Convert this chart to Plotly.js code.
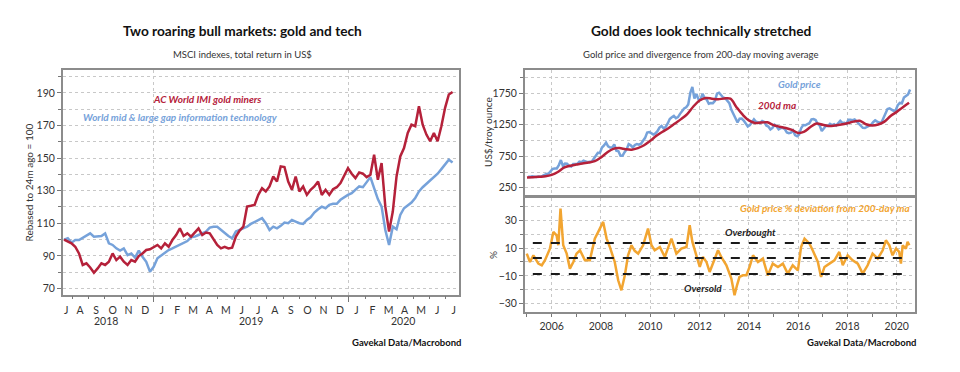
<!DOCTYPE html>
<html><head><meta charset="utf-8">
<script src="https://cdn.plot.ly/plotly-3.0.1.min.js"></script>
<style>html,body{margin:0;padding:0;background:#fff;}#chart{width:960px;height:372px;}</style>
</head><body><div id="chart"></div>
<script>
// ---------- LEFT CHART DATA (weekly, rebased to 100) ----------
const leftStartDate = '2018-07-17';
const goldMiners = [100,98.7,97.7,95.6,91.5,84.4,85.4,82.9,79.6,82.3,85.4,84.4,86.4,91.5,87.4,89.5,86.4,84.4,87.4,86.4,
  89.9,91.5,93.6,94.0,95.6,96.7,94.6,97.7,95.6,99.7,102.8,106.9,102.2,103.8,101.8,104.3,106.9,102.8,104.3,103.8,
  100.1,96.7,94.6,95.6,94.6,95.0,101.8,105.5,107.9,120.2,120.7,121.3,127.4,131.5,129.5,132.6,138.7,135.6,144.9,144.5,
  135.6,130.5,138.7,129.5,132.6,127.4,130.5,132.6,135.6,127.4,130.5,127.4,130.9,132.1,134.6,139.7,143.8,140.4,137.7,141.2,
  140.4,138.3,139.7,152.0,136.7,146.9,120.2,104.9,117.2,138.7,151.0,156.1,165.4,170.5,169.5,181.8,170.5,164.4,160.3,165.4,
  160.3,169.5,180.8,189.0,190.5];
const techIndex = [100,100.8,98.1,99.7,99.7,101.0,102.2,103.8,101.8,102.2,102.2,103.8,97.7,96.7,94.6,93.2,94.6,90.5,91.5,88.9,
  93.2,89.5,86.4,80.3,83.3,88.5,90.1,91.5,93.6,94.6,95.6,96.7,97.7,99.1,101.4,101.8,102.8,103.8,104.9,107.3,
  107.9,107.9,105.9,104.3,102.2,100.8,104.9,105.9,106.9,107.9,109.6,110.6,112.0,113.1,110.0,105.9,107.9,106.9,108.4,110.4,
  110.0,112.0,111.0,110.0,109.6,112.0,113.7,116.6,118.6,120.2,119.2,121.3,121.9,121.9,124.4,126.0,127.4,128.5,130.5,132.6,
  132.1,135.6,138.3,131.5,124.8,120.2,105.9,96.7,107.9,106.3,115.1,119.2,120.7,122.7,125.4,129.5,132.1,134.2,136.3,138.7,
  140.4,143.2,145.9,149.0,147.3];
const monthTickDates = ['2018-07-21','2018-08-16','2018-09-15','2018-10-16','2018-11-15','2018-12-16','2019-01-16','2019-02-14',
  '2019-03-16','2019-04-15','2019-05-16','2019-06-15','2019-07-16','2019-08-16','2019-09-15','2019-10-16','2019-11-15',
  '2019-12-16','2020-01-16','2020-02-15','2020-03-16','2020-04-15','2020-05-16','2020-06-15','2020-07-16'];
const monthTickText = ['J','A','S','O','N','D','J','F','M','A','M','J','J','A','S','O','N','D','J','F','M','A','M','J','J'];
const yearLabels = ['2018','2019','2020'];
const yearLabelDates = ['2018-10-03','2019-07-02','2020-04-12'];

// ---------- RIGHT CHART DATA ----------
const goldStartYear = 2005; // monthly from Jan 2005
const goldPrice = [
  424,423,434,429,422,430,424,438,456,470,476,510,
  549,555,557,610,690,596,633,632,598,586,627,629,
  631,665,655,679,667,655,665,665,712,754,806,803,
  889,922,968,909,888,889,939,839,829,760,760,816,
  858,943,924,890,928,945,934,949,996,1043,1127,1134,
  1117,1095,1113,1148,1205,1232,1193,1215,1271,1343,1370,1391,
  1356,1372,1424,1473,1510,1529,1572,1756,1850,1666,1739,1652,
  1656,1742,1673,1650,1585,1596,1594,1630,1745,1760,1721,1684,
  1671,1627,1593,1487,1414,1343,1286,1347,1349,1316,1275,1222,
  1244,1300,1336,1299,1288,1279,1311,1296,1238,1222,1176,1200,
  1251,1227,1179,1198,1199,1181,1128,1117,1125,1159,1086,1068,
  1097,1200,1246,1242,1260,1276,1337,1341,1326,1266,1236,1151,
  1192,1234,1231,1266,1246,1260,1236,1283,1314,1280,1282,1265,
  1331,1330,1324,1335,1303,1282,1238,1202,1199,1215,1221,1250,
  1291,1320,1300,1285,1284,1359,1413,1500,1510,1495,1471,1480,
  1560,1597,1591,1683,1715,1732,1810];
const ma200 = [412,418,424,432, 455,500,570,600, 618,636,652,672, 730,810,868,880, 862,855,880,925,
  995,1075,1140,1200, 1270,1340,1420,1540, 1635,1675,1665,1655, 1668,1665,1530,1410, 1320,1280,1285,1290,
  1245,1220,1200,1168, 1120,1140,1215,1270, 1250,1230,1240,1255, 1275,1300,1315,1258, 1240,1255,1300,1390,
  1455,1530,1600]; // quarterly from 2005.0
const devYears = [2004.99,2005.12,2005.26,2005.46,2005.60,2005.73,2005.93,2006.07,2006.20,2006.27,2006.36,2006.47,2006.61,
  2006.74,2006.88,2007.01,2007.15,2007.35,2007.55,2007.75,2007.89,2008.09,2008.23,2008.36,2008.56,2008.70,2008.83,2008.97,
  2009.10,2009.24,2009.37,2009.51,2009.71,2009.91,2010.05,2010.18,2010.39,2010.59,2010.86,2011.06,2011.26,2011.47,2011.60,
  2011.71,2011.87,2012.01,2012.14,2012.28,2012.41,2012.61,2012.75,2012.88,2013.09,2013.29,2013.42,2013.52,2013.62,2013.76,
  2013.90,2014.03,2014.17,2014.37,2014.57,2014.77,2014.97,2015.18,2015.38,2015.58,2015.78,2015.99,2016.12,2016.26,2016.46,
  2016.59,2016.80,2016.93,2017.07,2017.27,2017.47,2017.67,2017.81,2018.01,2018.21,2018.42,2018.62,2018.82,2019.02,2019.23,
  2019.43,2019.56,2019.70,2019.83,2019.97,2020.10,2020.17,2020.24,2020.37,2020.44,2020.51];
const devValues = [6,0,4.8,-1.2,-2.4,1.2,9.6,21.6,19.2,12,38.4,12,6,
  -4.8,0,6,8.4,1.2,1.2,16.8,21.6,28.8,16.8,10.8,0,-13.2,-20.4,-9.6,
  4.8,12,8,6,12,24,12,8.4,10.8,3.6,16.8,6,9.6,10.8,26.4,
  14.4,4.8,-3.6,3.6,0,-7.2,1.2,8.4,3.6,-2.4,-12,-24,-16.8,-10.8,-9.6,
  -9.6,-3.6,4.8,0,2.4,-9.6,-1.2,-3.6,-1.2,-8.4,-2.4,-6,10.8,16.8,13.2,
  8.4,0,-10.8,-3.6,-1.2,1.2,7.2,-2.4,4.8,1.2,-1.2,-8.4,-2.4,6,2.4,
  8.4,15.6,12,4.8,9.6,7.2,-1.2,12,9.6,14.4,12];
const bandLevels = [13.7, 2.9, -8.6]; // overbought, mean, oversold

// ---------- helpers ----------
function weeklyDates(start, n){
  const d0 = new Date(start + 'T00:00:00Z'); const out = [];
  for (let i=0;i<n;i++){ const d = new Date(d0.getTime() + i*7*86400000); out.push(d.toISOString().slice(0,10)); }
  return out;
}
const leftDates = weeklyDates(leftStartDate, goldMiners.length);
const goldX = goldPrice.map((_,i)=> goldStartYear + (i+0.5)/12);
const maX = ma200.map((_,i)=> goldStartYear + i*0.25);

const RED = '#b5213a', BLUE = '#76a2da', ORANGE = '#f2a531', TXT = '#333333';
const FONT = 'Lato, "Open Sans", sans-serif';
const GRID = '#c8c8c8';
const FRAME = '#8c8c8c';

const traces = [
  {x: leftDates, y: techIndex, xaxis:'x', yaxis:'y', mode:'lines', line:{color:BLUE, width:2.5}, hoverinfo:'skip'},
  {x: leftDates, y: goldMiners, xaxis:'x', yaxis:'y', mode:'lines', line:{color:RED, width:2.5}, hoverinfo:'skip'},
  {x: [], y: [], xaxis:'x4', yaxis:'y', mode:'lines', hoverinfo:'skip'},
  {x: goldX, y: goldPrice, xaxis:'x2', yaxis:'y2', mode:'lines', line:{color:BLUE, width:2.5}, hoverinfo:'skip'},
  {x: maX, y: ma200, xaxis:'x2', yaxis:'y2', mode:'lines', line:{color:RED, width:2.5, shape:'spline'}, hoverinfo:'skip'},
  {x: devYears, y: devValues, xaxis:'x3', yaxis:'y3', mode:'lines', line:{color:ORANGE, width:2.5}, hoverinfo:'skip'}
];

const tickFont = {family: FONT, size: 10.5, color: TXT};
const baseY = {showline:true, linecolor:FRAME, linewidth:2, mirror:true, ticks:'outside', ticklen:4, tickcolor:'#777',
  tickfont:tickFont, showgrid:true, gridcolor:GRID, griddash:'dot', gridwidth:1, zeroline:false, fixedrange:true};

function ann(text, x, y, size, color, extra){
  return Object.assign({text:text, x:x, y:y, xref:'paper', yref:'paper', xanchor:'center', yanchor:'middle',
    showarrow:false, font:{size:size, color:color}}, extra || {});
}

const layout = {
  width:960, height:372, margin:{l:0,r:0,t:0,b:0}, paper_bgcolor:'#fff', plot_bgcolor:'#fff', showlegend:false,
  font:{family:FONT, color:TXT},
  xaxis:{domain:[0.0656,0.4781], anchor:'y', type:'date', range:['2018-07-15','2020-07-26'],
    tickmode:'array', tickvals:monthTickDates, ticktext:monthTickText, ticks:'', tickfont:tickFont, ticklabelstandoff:4,
    showgrid:false, showline:true, linecolor:FRAME, linewidth:2, mirror:true, zeroline:false},
  xaxis4:{overlaying:'x', anchor:'y', type:'date', range:['2018-07-15','2020-07-26'], showticklabels:false,
    tickmode:'array', tickvals:['2019-01-01','2020-01-01'], ticks:'outside', ticklen:6, tickcolor:'#777',
    showgrid:true, gridcolor:GRID, griddash:'dot', showline:false, zeroline:false,
    minor:{tickmode:'linear', tick0:'2018-01-01', dtick:'M1', ticks:'outside', ticklen:3, tickcolor:'#777', showgrid:false}},
  yaxis:Object.assign({}, baseY, {domain:[0.2070,0.8118], anchor:'x', range:[66,204], tickmode:'array',
    tickvals:[70,90,110,130,150,170,190],
    minor:{tickmode:'linear', tick0:0, dtick:10, ticks:'outside', ticklen:3, tickcolor:'#777', showgrid:true, gridcolor:GRID, griddash:'dot'}}),
  xaxis2:{domain:[0.5469,0.9531], anchor:'y2', range:[2004.92,2020.74], tickmode:'array', tickvals:[2006,2008,2010,2012,2014,2016,2018,2020],
    showticklabels:false, ticks:'', showgrid:true, gridcolor:GRID, griddash:'dot', showline:true, linecolor:FRAME, linewidth:2, mirror:true, zeroline:false},
  yaxis2:Object.assign({}, baseY, {domain:[0.4758,0.8118], anchor:'x2', range:[135,2120], tickmode:'array', tickvals:[250,750,1250,1750],
    minor:{tickmode:'linear', tick0:0, dtick:250, ticks:'outside', ticklen:3, tickcolor:'#777', showgrid:true, gridcolor:GRID, griddash:'dot'}}),
  xaxis3:{domain:[0.5469,0.9531], anchor:'y3', range:[2004.92,2020.74], tickmode:'array', tickvals:[2006,2008,2010,2012,2014,2016,2018,2020],
    ticktext:['2006','2008','2010','2012','2014','2016','2018','2020'], tickfont:tickFont, ticks:'outside', ticklen:3, tickcolor:'#777',
    showgrid:true, gridcolor:GRID, griddash:'dot', showline:true, linecolor:FRAME, linewidth:2, mirror:true, zeroline:false,
    minor:{tickmode:'linear', tick0:2005, dtick:1, ticks:'outside', ticklen:3, tickcolor:'#777', showgrid:false}},
  yaxis3:Object.assign({}, baseY, {domain:[0.1613,0.4677], anchor:'x3', range:[-36,46], tickmode:'array', tickvals:[-30,-10,10,30],
    minor:{tickmode:'linear', tick0:0, dtick:10, ticks:'outside', ticklen:3, tickcolor:'#777', showgrid:true, gridcolor:GRID, griddash:'dot'}}),
  shapes: bandLevels.map(v => ({type:'line', xref:'x3 domain', yref:'y3', x0:0.02, x1:0.985, y0:v, y1:v,
    line:{color:'#1a1a1a', width:2, dash:'dash'}, layer:'above'})),
  annotations: [
    ann('<b>Two roaring bull markets: gold and tech</b>', 0.2531, 0.9167, 13.7, '#111'),
    ann('MSCI indexes, total return in US$', 0.2531, 0.8548, 9.5, TXT),
    ann('<b>Gold does look technically stretched</b>', 0.7302, 0.9167, 13.7, '#111'),
    ann('Gold price and divergence from 200-day moving average', 0.7292, 0.8548, 9.5, TXT),
    ann('<b>Gavekal Data/Macrobond</b>', 0.4823, 0.0780, 9.5, '#111', {xanchor:'right'}),
    ann('<b>Gavekal Data/Macrobond</b>', 0.9563, 0.0780, 9.5, '#111', {xanchor:'right'}),
    ann('Rebased to 24m ago = 100', 0.0292, 0.5094, 10, TXT, {textangle:-90}),
    ann('US$/troy ounce', 0.5083, 0.6452, 10, TXT, {textangle:-90}),
    ann('%', 0.5135, 0.3145, 10, TXT, {textangle:-90}),
    ann('<b><i>AC World IMI gold miners</i></b>', 0.2156, 0.7339, 10, RED),
    ann('<b><i>World mid &amp; large gap information technology</i></b>', 0.1875, 0.6855, 10, BLUE),
    ann('<b><i>Gold price</i></b>', 0.8333, 0.7742, 10, BLUE),
    ann('<b><i>200d ma</i></b>', 0.8094, 0.7177, 10, RED),
    ann('<b><i>Gold price % deviation from 200-day ma</i></b>', 0.950, 0.4409, 10, ORANGE, {xanchor:'right'}),
    ann('<b><i>Overbought</i></b>', 0.7813, 0.3763, 10, '#222'),
    ann('<b><i>Oversold</i></b>', 0.7323, 0.2258, 10, '#222')
  ].concat(yearLabels.map((t,i)=>({text:t, x:yearLabelDates[i], xref:'x', y:1-321/372, yref:'paper', xanchor:'center', yanchor:'middle',
    showarrow:false, font:{size:10.5, color:TXT}})))
};

Plotly.newPlot('chart', traces, layout, {staticPlot:true, displayModeBar:false});
</script>
</body></html>
